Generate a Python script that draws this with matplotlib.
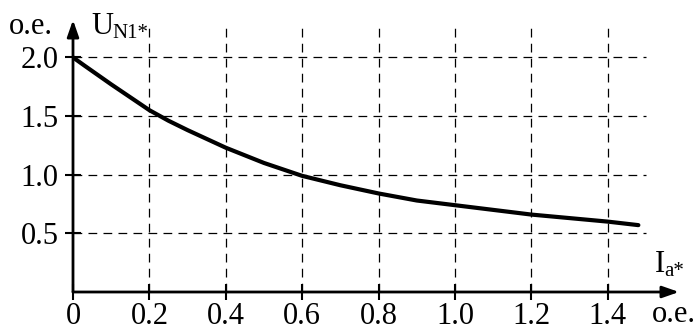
import matplotlib
matplotlib.use("Agg")
import matplotlib.pyplot as plt

# Data
ia = [0.0, 0.03, 0.1, 0.15, 0.2, 0.25, 0.3, 0.4, 0.5, 0.6, 0.7, 0.8, 0.9, 1.0, 1.1, 1.2, 1.3, 1.4, 1.48]
un = [2.0, 1.93, 1.77, 1.66, 1.55, 1.46, 1.38, 1.23, 1.10, 0.99, 0.91, 0.84, 0.78, 0.74, 0.70, 0.66, 0.63, 0.60, 0.57]
xticks = [0.2, 0.4, 0.6, 0.8, 1.0, 1.2, 1.4]
xticklabels = ["0.2", "0.4", "0.6", "0.8", "1.0", "1.2", "1.4"]
yticks = [0.5, 1.0, 1.5, 2.0]
yticklabels = ["0.5", "1.0", "1.5", "2.0"]

plt.rcParams['font.family'] = ['Liberation Serif', 'DejaVu Serif']
W, H = 697, 331
fig = plt.figure(figsize=(W / 100, H / 100), dpi=100)
x0, x1 = 73, 679
y0, y1 = 292, 20
ax = fig.add_axes([x0 / W, 1 - y0 / H, (x1 - x0) / W, (y0 - y1) / H])
xmax = (x1 - x0) / 382.0
ymax = (y0 - y1) / 117.3
ax.set_xlim(0, xmax)
ax.set_ylim(0, ymax)
for s in ax.spines.values():
    s.set_visible(False)

dash = (0, (7, 5))
ax.vlines(xticks, 0, 2.27, colors='black', linewidth=0.9, linestyles=dash)
ax.hlines(yticks, 0, 1.5, colors='black', linewidth=0.9, linestyles=dash)

ax.plot(ia, un, color='black', linewidth=3.0, solid_capstyle='round', solid_joinstyle='round')

# axes with arrows
ap = dict(arrowstyle='-|>,head_length=1.0,head_width=0.35', color='black', lw=2.0,
          shrinkA=0, shrinkB=0)
ax.annotate('', xy=(xmax, 0), xytext=(0, 0), xycoords='data',
            arrowprops=ap, annotation_clip=False)
ax.annotate('', xy=(0, ymax), xytext=(0, 0), xycoords='data',
            arrowprops=ap, annotation_clip=False)

ax.set_xticks([0] + xticks)
ax.set_xticklabels(["0"] + xticklabels)
ax.set_yticks(yticks)
ax.set_yticklabels(yticklabels)
ax.tick_params(axis='x', direction='inout', length=11, width=1.5, labelsize=22, pad=2)
ax.tick_params(axis='y', direction='inout', length=11, width=1.5, labelsize=22, pad=5)

fs = 22
sub = 15
fig.text(9 / W, 1 - 27 / H, 'o.e.', fontsize=fs, ha='left', va='center')
fig.text(91 / W, 1 - 26 / H, 'U', fontsize=fs, ha='left', va='center')
fig.text(112 / W, 1 - 33 / H, 'N1*', fontsize=sub, ha='left', va='center')
fig.text(655 / W, 1 - 264 / H, 'I', fontsize=fs, ha='left', va='center')
fig.text(664 / W, 1 - 271 / H, 'a*', fontsize=sub, ha='left', va='center')
fig.text(652 / W, 1 - 314 / H, 'o.e.', fontsize=fs, ha='left', va='center')

fig.savefig('out.png', dpi=100)
